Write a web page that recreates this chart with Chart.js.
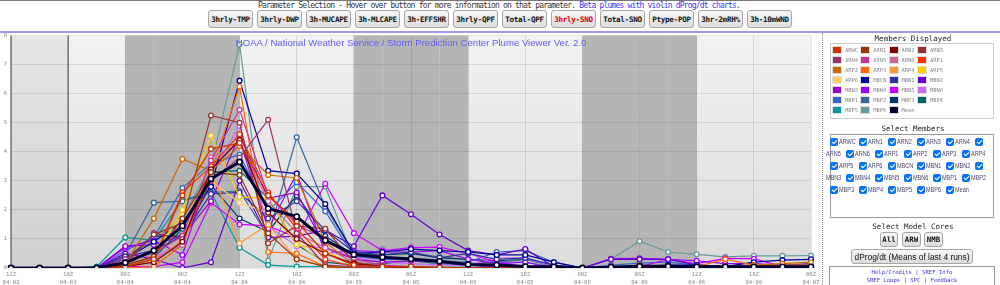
<!DOCTYPE html>
<html><head><meta charset="utf-8">
<script src="https://cdn.jsdelivr.net/npm/chart.js@4.4.1/dist/chart.umd.min.js"></script>
<style>
html,body{margin:0;padding:0;background:#fff;width:1000px;height:285px;overflow:hidden;position:relative;font-family:"DejaVu Sans Mono",monospace;}
#topline{position:absolute;left:0;top:0;width:1000px;height:1px;background:#777;}
#hdrtext{position:absolute;left:258px;top:1px;font-size:8px;line-height:9px;letter-spacing:-0.8px;color:#333;white-space:nowrap;}
#hdrtext span{color:#3535ff;}
#btns{position:absolute;left:208px;top:10px;display:flex;gap:4px;}
.pbtn{width:45px;height:18px;box-sizing:border-box;border:1px solid #a6a6a6;border-radius:3px;background:linear-gradient(#f8f8f8,#dcdcdc);font-weight:bold;font-size:7.6px;letter-spacing:-0.3px;color:#111;display:flex;align-items:center;justify-content:center;white-space:nowrap;}
.pbtn.red{color:#e00000;}
#hdrline{position:absolute;left:0;top:31px;width:1000px;height:2px;background:#9a9af0;}
#chartbox{position:absolute;left:0;top:30px;width:822px;height:255px;}
#sep{position:absolute;left:822px;top:33px;height:252px;border-left:1px dotted #888;}
#ptitle{position:absolute;left:0;top:37px;width:822px;text-align:center;font-family:"Liberation Sans",Arial,sans-serif;font-size:9.6px;color:#6060f4;white-space:nowrap;pointer-events:none;}
.ptitle2{position:absolute;left:826px;width:174px;text-align:center;font-size:7.5px;color:#222;white-space:nowrap;}
#legbox{position:absolute;left:830px;top:43px;width:164px;height:76px;border:1px solid #ccc;box-sizing:border-box;}
.lg{position:absolute;height:8px;white-space:nowrap;font-size:5.4px;color:#888;line-height:8px;}
.lg i{display:inline-block;width:8px;height:6px;border:1px solid #ddd;vertical-align:middle;margin-right:3px;position:relative;top:-1px;}
#cbbox{position:absolute;left:830px;top:134px;width:164px;height:84px;border:1px solid #999;box-sizing:border-box;}
.cbrow{position:absolute;left:826px;white-space:nowrap;font-family:"Liberation Sans",Arial,sans-serif;font-size:6.9px;color:#4a4266;height:10px;line-height:10px;}
.lab{display:inline-block;width:15px;margin-right:1px;vertical-align:middle;}
.lab span{display:inline-block;transform:scaleX(0.8);transform-origin:left center;}
.cb{display:inline-block;width:8px;height:8px;background:#0a74f5;border-radius:2px;vertical-align:middle;margin:0 1px 0 4px;position:relative;}
.cb::after{content:"";position:absolute;left:2.5px;top:0.8px;width:2px;height:4px;border:solid #fff;border-width:0 1.3px 1.3px 0;transform:rotate(45deg);}
.sbtn{position:absolute;top:232px;height:15px;box-sizing:border-box;border:1px solid #a6a6a6;border-radius:3px;background:linear-gradient(#f8f8f8,#dcdcdc);font-weight:bold;font-size:7.4px;color:#111;display:flex;align-items:center;justify-content:center;}
#dprog{position:absolute;left:851px;top:249px;width:122px;height:15px;box-sizing:border-box;border:1px solid #a6a6a6;border-radius:3px;background:linear-gradient(#f8f8f8,#dcdcdc);font-family:"Liberation Sans",Arial,sans-serif;font-size:8.4px;color:#111;display:flex;align-items:center;justify-content:center;white-space:nowrap;}
#linkbox{position:absolute;left:829px;top:266px;width:166px;height:22px;border:1px solid #999;box-sizing:border-box;text-align:center;font-size:5.6px;line-height:8px;color:#3a3ad8;padding-top:1px;}
</style></head>
<body>
<div id="topline"></div>
<div id="hdrtext">Parameter Selection - Hover over button for more information on that parameter. <span>Beta plumes with violin dProg/dt charts.</span></div>
<div id="btns"></div>
<div id="hdrline"></div>
<div id="chartbox"><canvas id="c" width="822" height="255"></canvas></div>
<div id="ptitle">NOAA / National Weather Service / Storm Prediction Center Plume Viewer Ver. 2.0</div>
<div id="sep"></div>
<div class="ptitle2" style="top:34px;">Members Displayed</div>
<div id="legbox"></div>
<div class="ptitle2" style="top:124px;">Select Members</div>
<div id="cbbox"></div>
<div class="ptitle2" style="top:222px;">Select Model Cores</div>
<div class="sbtn" style="left:880px;width:18px;">All</div>
<div class="sbtn" style="left:902px;width:19px;">ARW</div>
<div class="sbtn" style="left:924px;width:19px;">NMB</div>
<div id="dprog">dProg/dt (Means of last 4 runs)</div>
<div id="linkbox">Help/Credits | SREF Info<br>SREF Loops | SPC | Feedback</div>
<script>
// ---------------- DATA ----------------
const paramButtons = ['3hrly-TMP','3hrly-DWP','3h-MUCAPE','3h-MLCAPE','3h-EFFSHR','3hrly-QPF','Total-QPF','3hrly-SNO','Total-SNO','Ptype-POP','3hr-2mRH%','3h-10mWND'];
const activeParam = '3hrly-SNO';

const timeLabels = ['12Z 04-03','15Z 04-03','18Z 04-03','21Z 04-03',
 '00Z 04-04','03Z 04-04','06Z 04-04','09Z 04-04','12Z 04-04','15Z 04-04','18Z 04-04','21Z 04-04',
 '00Z 04-05','03Z 04-05','06Z 04-05','09Z 04-05','12Z 04-05','15Z 04-05','18Z 04-05','21Z 04-05',
 '00Z 04-06','03Z 04-06','06Z 04-06','09Z 04-06','12Z 04-06','15Z 04-06','18Z 04-06','21Z 04-06',
 '00Z 04-07'];
const yTicks = [0,1,2,3,4,5,6,7,8];
const pastWindow = ['12Z 04-03','18Z 04-03'];

const members = ['ARWC','ARN1','ARN2','ARN3','ARN4','ARN5','ARN6','ARP1','ARP2','ARP3','ARP4','ARP5','ARP6',
 'MBCN','MBN1','MBN2','MBN3','MBN4','MBN5','MBN6','MBP1','MBP2','MBP3','MBP4','MBP5','MBP6','Mean'];
const memberColors = ['#cc3300','#993300','#800000','#993333','#993366','#cc3399','#cc6699','#ff3300','#cc6600','#ff6600','#ff9933','#ffcc00',
 '#ffcc66','#000099','#333399','#6600cc','#9900cc','#9900ff','#cc00ff','#cc66ff','#3366cc','#336699','#003366','#006666','#009999','#669999','#000033'];

const ARWC = [0,0,0,0,0.05,0.3,2.5,4.1,4.3,2.5,1.6,0.5,0.1,0.05,0.05,0.02,0,0,0,0,0,0,0,0,0,0,0,0,0];
const ARN1 = [0,0,0,0,0.1,0.4,1.7,3.3,3.2,1.2,0.3,0.05,0,0,0,0,0,0,0,0,0,0,0,0,0,0,0,0,0];
const ARN2 = [0,0,0,0,0.05,0.2,0.9,3.4,4.4,1.9,1.0,0.5,0.15,0.05,0,0,0,0,0,0,0,0,0,0,0,0,0,0,0];
const ARN3 = [0,0,0,0,0.2,1.15,1.55,5.25,5.0,0.85,1.45,1.35,0.2,0.05,0.05,0,0,0,0,0,0,0,0,0,0,0,0,0,0];
const ARN4 = [0,0,0,0,0.1,1.2,1.0,3.0,3.8,5.1,1.2,0.1,0.05,0,0,0,0,0,0,0,0,0,0,0,0,0,0,0,0];
const ARN5 = [0,0,0,0,0.3,0.5,1.1,3.7,5.45,2.5,1.5,1.0,0.3,0.1,0.05,0,0,0,0,0,0,0,0,0,0,0,0,0,0];
const ARN6 = [0,0,0,0,0.2,0.3,0.8,3.8,4.3,2.3,1.2,0.7,0.2,0.05,0,0,0,0,0,0,0,0,0,0,0,0,0,0,0];
const ARP1 = [0,0,0,0,0.05,0.3,2.6,3.5,4.6,2.6,1.35,0.3,0.05,0,0,0,0,0,0,0,0,0,0,0,0,0,0,0,0];
const ARP2 = [0,0,0,0,0.15,1.7,3.75,3.35,4.2,3.2,3.1,0.9,0.1,0.05,0.05,0,0,0,0.05,0,0,0.05,0.1,0.05,0.05,0.05,0.1,0.15,0.2];
const ARP3 = [0,0,0,0,0,0.05,0.8,3.3,6.25,0.55,0.5,0.05,0,0,0,0,0,0,0,0,0,0,0.05,0.05,0.05,0.3,0.1,0.1,0.1];
const ARP4 = [0,0,0,0,0.05,0.2,1.0,3.4,0.85,1.5,0.3,0.05,0,0,0,0,0,0,0,0,0,0,0,0,0,0,0,0,0];
const ARP5 = [0,0,0,0,0.1,0.4,2.0,4.55,2.45,2.4,0.8,0.6,0.05,0,0,0,0,0,0,0,0,0,0,0,0,0,0,0,0];
const ARP6 = [0,0,0,0,0.2,0.6,1.8,3.0,2.25,1.9,0.9,0.1,0,0,0,0,0,0,0,0,0,0,0,0,0,0,0,0,0];
const MBCN = [0,0,0,0,0.3,0.9,1.6,2.8,6.45,3.35,3.25,2.2,0.5,0.55,0.65,0.6,0.55,0.45,0.45,0.2,0,0.05,0.05,0.1,0.1,0.05,0.2,0.27,0.3];
const MBN1 = [0,0,0,0,0.4,0.6,1.1,2.55,2.6,1.7,2.3,1.3,0.55,0.45,0.55,0.35,0.5,0.3,0.35,0.1,0,0.05,0.05,0.05,0.05,0.05,0.05,0.1,0.15];
const MBN2 = [0,0,0,0,0.5,0.3,0,0.2,3.0,1.05,1.1,1.3,0.75,2.5,1.85,1.15,0.6,0.45,0.65,0.05,0,0.3,0.3,0.3,0.1,0.05,0.05,0.05,0.1];
const MBN3 = [0,0,0,0,0.75,0.8,1.1,2.3,4.55,2.4,2.6,0.7,0.3,0.2,0.25,0.2,0.1,0.05,0.05,0,0,0.05,0.05,0.05,0.05,0.05,0.05,0.05,0.05];
const MBN4 = [0,0,0,0,0.7,0.95,0.45,3.4,4.4,1.35,3.25,0.5,0.6,0.55,0.55,0.6,0.3,0.15,0.2,0,0,0.32,0.33,0.3,0.25,0.15,0.15,0.1,0.1];
const MBN5 = [0,0,0,0,0.05,0.05,0.2,2.25,1.5,1.45,1.05,2.9,1.2,0.6,0.7,0.72,0.5,0.2,0.05,0,0,0.05,0.05,0.3,0.15,0.33,0.32,0.05,0.1];
const MBN6 = [0,0,0,0,0.55,0.35,0.9,3.2,4.9,1.45,0.75,0.7,0.35,0.2,0.15,0.1,0.1,0.35,0.35,0.05,0,0.05,0.05,0.05,0.05,0.05,0.05,0.05,0.05];
const MBP1 = [0,0,0,0,0.6,1.05,2.75,3.6,3.9,1.95,2.95,1.95,0.4,0.3,0.3,0.25,0.2,0.55,0.6,0.2,0,0.1,0.17,0.2,0.1,0.05,0.05,0.1,0.1];
const MBP2 = [0,0,0,0,0.45,2.25,2.3,2.6,2.65,1.1,4.5,2.1,0.5,0.3,0.3,0.2,0.15,0.2,0.3,0.05,0,0.05,0.05,0.05,0.05,0.05,0.05,0.05,0.05];
const MBP3 = [0,0,0,0,0.3,1.1,1.1,2.85,1.7,1.25,2.5,1.1,0.45,0.45,0.5,0.35,0.3,0.25,0.3,0.1,0,0.05,0.05,0.05,0.1,0.05,0.05,0.1,0.1];
const MBP4 = [0,0,0,0,0.1,0.35,1.35,3.3,3.35,2.4,0.8,0.2,0.1,0.15,0.25,0.15,0.1,0.05,0.05,0,0,0,0,0,0,0,0,0,0];
const MBP5 = [0,0,0,0.05,1.05,0.95,2.35,2.6,0.7,0.1,0.05,0.05,0.05,0.05,0.05,0.02,0.02,0.02,0.02,0,0,0,0,0,0,0,0,0,0];
const MBP6 = [0,0,0,0,0.35,0.95,1.75,3.5,7.7,0.25,2.8,2.8,0.3,0.65,0.5,0.4,0.3,0.2,0.2,0.05,0,0.3,0.92,0.55,0.47,0.38,0.42,0.42,0.43];
const Mean = [0,0,0,0,0.18,0.6,1.45,3.07,3.65,2.05,1.77,0.95,0.46,0.37,0.31,0.23,0.12,0.1,0.05,0.04,0,0.03,0.06,0.06,0.04,0.04,0.04,0.04,0.04];
const seriesValues = [ARWC,ARN1,ARN2,ARN3,ARN4,ARN5,ARN6,ARP1,ARP2,ARP3,ARP4,ARP5,ARP6,MBCN,MBN1,MBN2,MBN3,MBN4,MBN5,MBN6,MBP1,MBP2,MBP3,MBP4,MBP5,MBP6,Mean];

// ---------------- PAGE ----------------
const btns = document.getElementById('btns');
paramButtons.forEach(n=>{const d=document.createElement('div');d.className='pbtn'+(n===activeParam?' red':'');d.textContent=n;btns.appendChild(d);});

members.forEach((m,i)=>{
  const col=i%4,row=Math.floor(i/4);
  const d=document.createElement('div');d.className='lg';
  d.style.left=(832+col*28.3)+'px';d.style.top=(46+row*10)+'px';
  d.innerHTML='<i style="background:'+memberColors[i]+'"></i>'+m;
  document.body.appendChild(d);
});
const tokens=[];members.forEach(m=>{tokens.push(null);tokens.push(m);});
for(let r=0;r*11<tokens.length;r++){
  const d=document.createElement('div');d.className='cbrow';d.style.top=(137+r*12)+'px';
  let h='';
  tokens.slice(r*11,r*11+11).forEach(t=>{ h+= (t===null)?'<span class="cb"></span>':'<span class="lab"><span>'+t+'</span></span>'; });
  d.innerHTML=h;document.body.appendChild(d);
}

// ---------------- CHART ----------------
const datasets = members.map((m,i)=>{
  const isMean = m==='Mean';
  return {label:m,data:seriesValues[i],borderColor:memberColors[i],backgroundColor:'#fff',
    borderWidth:isMean?3:1.2,pointRadius:isMean?2.6:2.4,pointBorderWidth:isMean?1.6:1.3,
    pointBackgroundColor:'#fff',pointBorderColor:memberColors[i],order:isMean?0:1,tension:0};
});

const bgPlugin = {
  id:'bands',
  beforeDraw(chart){
    const {ctx,chartArea:{left,right,top,bottom},scales:{x}}=chart;
    ctx.save();
    const g=ctx.createLinearGradient(0,top,0,bottom);
    g.addColorStop(0,'#f2f2f2');g.addColorStop(1,'#dcdcdc');
    ctx.fillStyle=g;ctx.fillRect(left,top,right-left,bottom-top);
    ctx.fillStyle='#b5b5b5';
    for(let i=0;i<timeLabels.length-1;i++){
      const hr=parseInt(timeLabels[i]);
      if(hr<12){const a=x.getPixelForValue(i),b=x.getPixelForValue(i+1);ctx.fillRect(a,top,b-a,bottom-top);}
    }
    const p0=x.getPixelForValue(timeLabels.indexOf(pastWindow[0])),p1=x.getPixelForValue(timeLabels.indexOf(pastWindow[1]));
    ctx.fillStyle='rgba(0,0,0,0.05)';ctx.fillRect(p0,top,p1-p0,bottom-top);
    ctx.strokeStyle='#7a7a7a';ctx.lineWidth=1.5;
    [p0,p1].forEach(p=>{ctx.beginPath();ctx.moveTo(p,top);ctx.lineTo(p,bottom);ctx.stroke();});
    ctx.restore();
  }
};

new Chart(document.getElementById('c'),{
  type:'line',
  data:{labels:timeLabels,datasets},
  plugins:[bgPlugin],
  options:{
    responsive:false,animation:false,
    layout:{padding:{top:2,right:11,left:0,bottom:0}},
    plugins:{legend:{display:false},tooltip:{enabled:false},title:{display:false}},
    scales:{
      x:{type:'category',offset:false,border:{display:false},
        grid:{drawTicks:false,color:c=>(parseInt(timeLabels[c.index])%6===0)?'rgba(0,0,0,0.1)':'rgba(0,0,0,0)'},
        ticks:{autoSkip:false,maxRotation:0,minRotation:0,padding:2,color:'#8a8a8a',
          font:{family:'DejaVu Sans Mono',size:5.6,lineHeight:1.5},
          callback:(v,i)=>{const l=timeLabels[i];return parseInt(l)%6===0?l.split(' '):'';}},
        afterFit:s=>{s.height=17;s.paddingLeft=0;s.paddingRight=0;}},
      y:{min:0,max:8,border:{display:false},
        grid:{drawTicks:false,color:'rgba(0,0,0,0.09)'},
        afterBuildTicks:s=>{s.ticks=yTicks.map(v=>({value:v}));},
        ticks:{padding:4,color:'#8a8a8a',font:{family:'DejaVu Sans Mono',size:5.6}},
        afterFit:s=>{s.width=11;s.paddingTop=0;s.paddingBottom=0;}}
    }
  }
});
</script>
</body></html>
